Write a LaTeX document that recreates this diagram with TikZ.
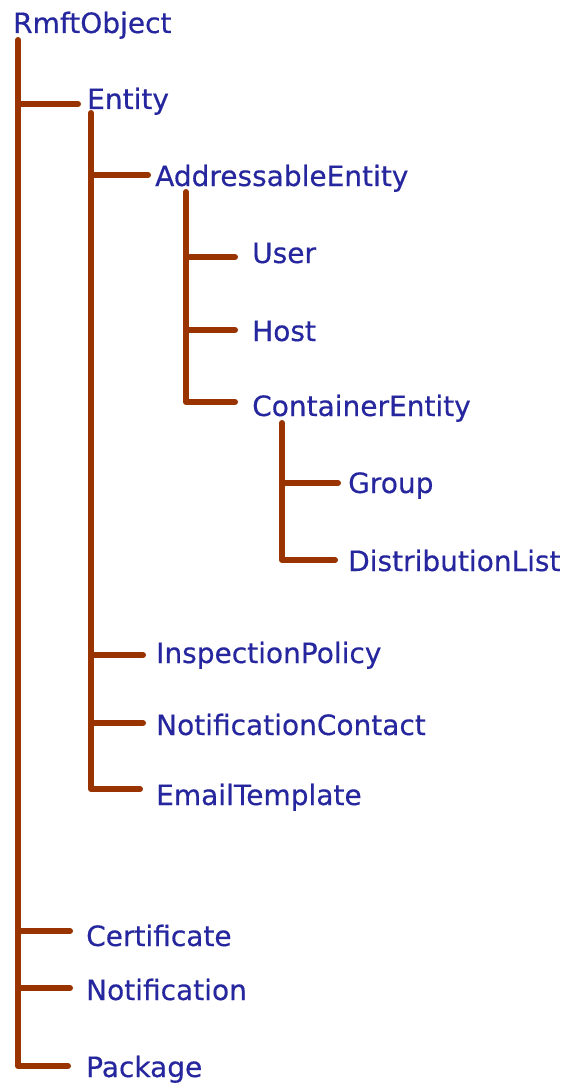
\documentclass[tikz,border=0pt]{standalone}
\usepackage{fontspec}
\setmainfont{DejaVu Sans}[FakeBold=0.4]
\definecolor{treeline}{RGB}{153,51,0}
\definecolor{treetext}{RGB}{38,38,158}
\begin{document}
\begin{tikzpicture}[x=1pt,y=-1pt,
  lbl/.style={anchor=base west, inner sep=0pt, text=treetext, font=\fontsize{28}{30}\selectfont},
  tree/.style={draw=treeline, line width=6pt, line cap=round, line join=round}]
\useasboundingbox[fill=white] (0,0) rectangle (563,1086);
% labels
\node[lbl] (root) at (13,33) {RmftObject};
\node[lbl] (ent) at (87,109) {Entity};
\node[lbl] (ae) at (155,186) {AddressableEntity};
\node[lbl] (usr) at (252,263) {User};
\node[lbl] (hst) at (252,341) {Host};
\node[lbl] (ce) at (252,416) {ContainerEntity};
\node[lbl] (grp) at (348,493) {Group};
\node[lbl] (dl) at (348,571) {DistributionList};
\node[lbl] (ip) at (156,663) {InspectionPolicy};
\node[lbl] (nc) at (156,735) {NotificationContact};
\node[lbl] (et) at (156,805) {EmailTemplate};
\node[lbl] (cert) at (86,946) {Certificate};
\node[lbl] (notif) at (86,1000) {Notification};
\node[lbl] (pkg) at (86,1077) {Package};
% tree coordinates
\coordinate (rootTop) at (18,40);
\coordinate (entEnd) at (78,104);
\coordinate (certEnd) at (70,931);
\coordinate (notifEnd) at (70,988);
\coordinate (pkgEnd) at (68,1066);
\coordinate (entTop) at (91,113);
\coordinate (aeEnd) at (148,175);
\coordinate (ipEnd) at (143,655);
\coordinate (ncEnd) at (143,723);
\coordinate (etEnd) at (140,789);
\coordinate (aeTop) at (186,192);
\coordinate (usrEnd) at (235,257);
\coordinate (hstEnd) at (235,330);
\coordinate (ceEnd) at (235,402);
\coordinate (ceTop) at (282,423);
\coordinate (grpEnd) at (338,483);
\coordinate (dlEnd) at (335,560);
% RmftObject children
\draw[tree] (rootTop) |- (pkgEnd);
\draw[tree] (rootTop |- entEnd) -- (entEnd);
\draw[tree] (rootTop |- certEnd) -- (certEnd);
\draw[tree] (rootTop |- notifEnd) -- (notifEnd);
% Entity children
\draw[tree] (entTop) |- (etEnd);
\draw[tree] (entTop |- aeEnd) -- (aeEnd);
\draw[tree] (entTop |- ipEnd) -- (ipEnd);
\draw[tree] (entTop |- ncEnd) -- (ncEnd);
% AddressableEntity children
\draw[tree] (aeTop) |- (ceEnd);
\draw[tree] (aeTop |- usrEnd) -- (usrEnd);
\draw[tree] (aeTop |- hstEnd) -- (hstEnd);
% ContainerEntity children
\draw[tree] (ceTop) |- (dlEnd);
\draw[tree] (ceTop |- grpEnd) -- (grpEnd);
\end{tikzpicture}
\end{document}
